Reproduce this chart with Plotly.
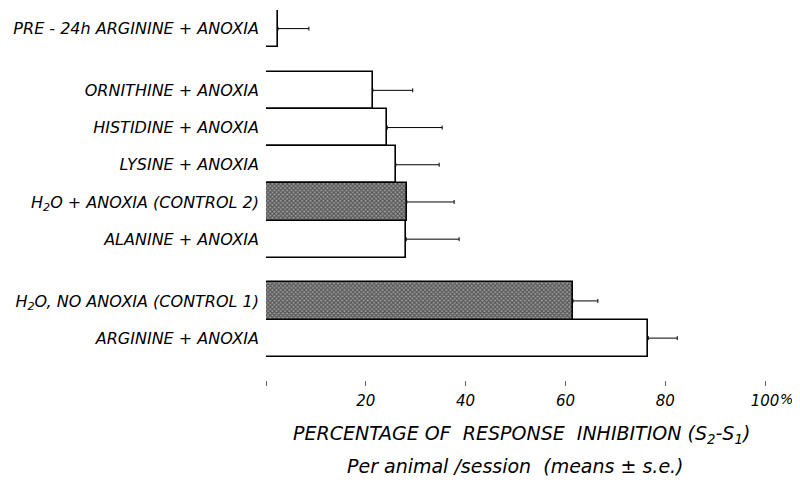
import plotly.graph_objects as go

# Data
groups = [
    ["PRE - 24h ARGININE + ANOXIA"],
    ["ORNITHINE + ANOXIA", "HISTIDINE + ANOXIA", "LYSINE + ANOXIA",
     "H<sub>2</sub>O + ANOXIA (CONTROL 2)", "ALANINE + ANOXIA"],
    ["H<sub>2</sub>O, NO ANOXIA (CONTROL 1)", "ARGININE + ANOXIA"],
]
labels = [l for g in groups for l in g]
values = [2.4, 21.4, 24.3, 26.0, 28.2, 28.1, 61.5, 76.6]
se = [6.2, 8.0, 11.0, 8.7, 9.5, 10.6, 5.0, 5.8]
controls = [False, False, False, False, True, False, True, False]
tick_vals = [0, 20, 40, 60, 80, 100]
tick_text = ["", "20", "40", "60", "80", "100"]

# positions: contiguous bars within a group, gap between groups
GAP = 0.66
pos = []
y = 0.0
for gi, g in enumerate(groups):
    if gi > 0:
        y += GAP
    for _ in g:
        pos.append(y)
        y += 1.0

FONT = "DejaVu Sans"
fig = go.Figure()
for is_ctrl in (False, True):
    idx = [i for i in range(len(labels)) if controls[i] == is_ctrl]
    marker = dict(color="white", line=dict(color="black", width=1.6))
    if is_ctrl:
        marker["pattern"] = dict(shape="x", size=3, solidity=0.6,
                                 fgcolor="#111111", bgcolor="#9a9a9a")
    fig.add_trace(go.Bar(
        orientation="h",
        x=[values[i] for i in idx],
        y=[pos[i] for i in idx],
        width=1.0,
        marker=marker,
        error_x=dict(type="data", array=[se[i] for i in idx],
                     arrayminus=[0] * len(idx), symmetric=False,
                     color="black", thickness=1, width=2),
        showlegend=False,
    ))

# page has an 8px body margin; figure sized to fit inside 800x493 window
fig.update_layout(
    width=792, height=485,
    margin=dict(l=258, r=10, t=2, b=113),
    plot_bgcolor="white", paper_bgcolor="white",
    font=dict(family=FONT, size=16, color="black"),
    bargap=0,
    xaxis=dict(range=[0, 105], tickvals=tick_vals, ticktext=tick_text,
               showgrid=False, zeroline=False, showline=False,
               ticks="outside", ticklen=5, tickwidth=1, tickcolor="#666",
               tickfont=dict(family=FONT, size=15, style="italic"),
               ticklabelstandoff=2),
    yaxis=dict(range=[9.446, -0.5], tickvals=pos, ticktext=labels,
               showgrid=False, zeroline=False, showline=False, ticks="",
               tickfont=dict(family=FONT, size=16, style="italic"),
               ticklabelstandoff=6),
    annotations=[
        dict(x=100, y=0, xref="x", yref="paper", text="%", showarrow=False,
             xanchor="left", yanchor="top", xshift=14, yshift=-10,
             borderpad=0,
             font=dict(family=FONT, size=14, style="italic")),
        dict(x=0.4885, y=-0.1486, xref="paper", yref="paper",
             text="PERCENTAGE OF  RESPONSE  INHIBITION (S<sub>2</sub>-S<sub>1</sub>)",
             showarrow=False, xanchor="center", yanchor="middle",
             font=dict(family=FONT, size=19, style="italic")),
        dict(x=0.477, y=-0.2324, xref="paper", yref="paper",
             text="Per animal /session  (means ± s.e.)",
             showarrow=False, xanchor="center", yanchor="middle",
             font=dict(family=FONT, size=19, style="italic")),
    ],
)

fig.write_html("out.html")
